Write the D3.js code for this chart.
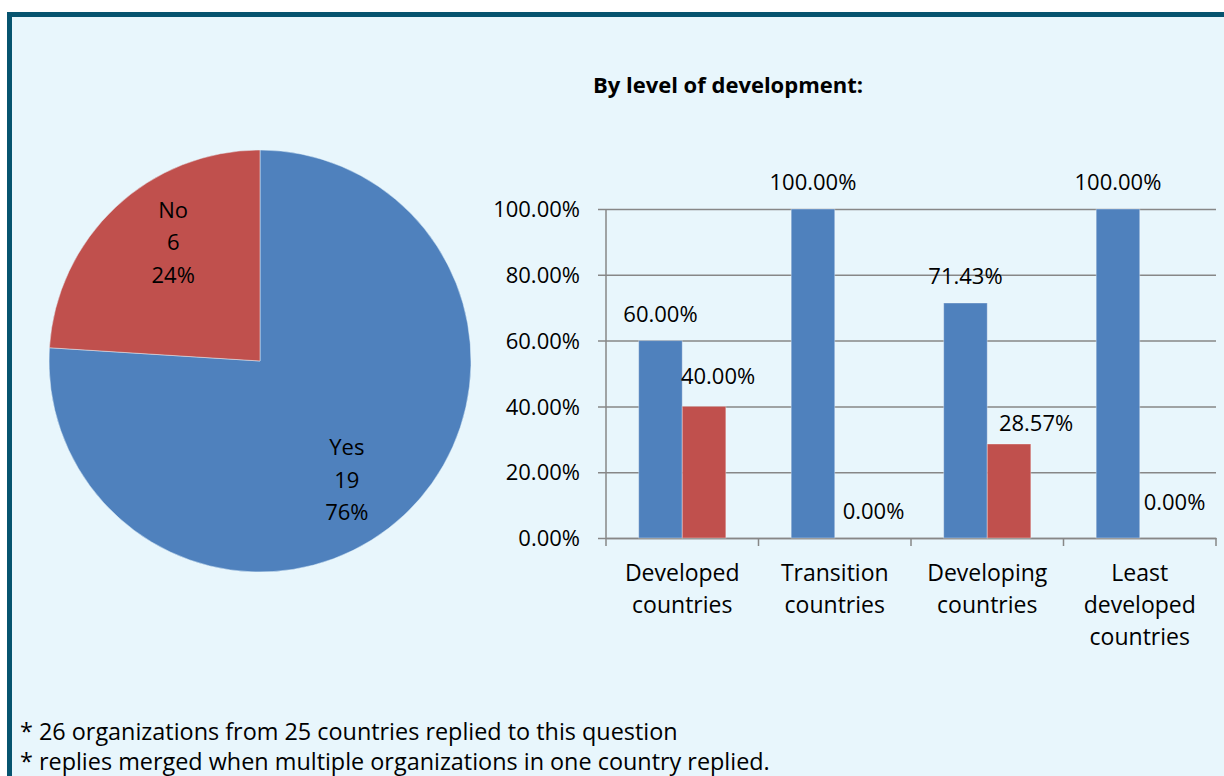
<!DOCTYPE html>
<html lang="en">
<head>
    <meta charset="UTF-8">
    <title>Replies by level of development</title>
    <script src="https://cdn.jsdelivr.net/npm/d3@7"></script>
    <style>
        html, body {
            margin: 0;
            padding: 0;
            background-color: #ffffff;
            font-family: 'Open Sans', sans-serif;
            color: #000;
        }
        svg text {
            font-family: 'Open Sans', sans-serif;
        }
    </style>
</head>
<body>
    <div id="chart"></div>
    <script>
        const width = 1224;
        const height = 776;

        // pie data
        const pieLabels = ["Yes", "No"];
        const pieValues = [19, 6];
        const piePercents = ["76%", "24%"];

        // bar data
        const categories = [
            ["Developed", "countries"],
            ["Transition", "countries"],
            ["Developing", "countries"],
            ["Least", "developed", "countries"]
        ];
        const seriesNames = ["Yes", "No"];
        const yesShare = [0.60, 1.00, 0.7143, 1.00];
        const noShare = [0.40, 0.00, 0.2857, 0.00];
        const yTicks = [0, 0.2, 0.4, 0.6, 0.8, 1.0];

        const notes = [
            "* 26 organizations from 25 countries replied to this question",
            "* replies merged when multiple organizations in one country replied."
        ];

        const colours = ["#4F81BD", "#C0504D"];
        // Excel moved the "No" labels around to avoid overlaps
        const noLabelDx = [14, 17, 27, 13];
        const noLabelDy = [-3, 0, 6, -9];

        const svg = d3.select("#chart")
            .append("svg")
            .attr("width", width)
            .attr("height", height);

        // PANEL
        svg.append("rect")
            .attr("x", 9.5)
            .attr("y", 14.5)
            .attr("width", width + 40)
            .attr("height", height + 40)
            .style("fill", "#E8F6FC")
            .style("stroke", "#06546F")
            .style("stroke-width", 5);

        // PIE
        const pieCx = 260, pieCy = 361, pieR = 211;
        const labelR = 147;
        const labelTurn = 7 * Math.PI / 180;
        const pie = d3.pie().sort(null).value(d => d.value);
        const pieData = pie(pieLabels.map((l, i) => ({label: l, value: pieValues[i], pct: piePercents[i], i: i})));
        const arc = d3.arc().innerRadius(0).outerRadius(pieR);

        const pieG = svg.append("g")
            .attr("transform", `translate(${pieCx}, ${pieCy})`);

        pieG.selectAll("path")
            .data(pieData).enter()
            .append("path")
            .attr("d", arc)
            .style("fill", d => colours[d.data.i])
            .style("stroke", "#E8F6FC")
            .style("stroke-width", 0.8)
            .style("stroke-opacity", 0.6);

        pieG.selectAll("text.pie-label")
            .data(pieData).enter()
            .append("text")
            .attr("class", "pie-label")
            .attr("text-anchor", "middle")
            .attr("transform", d => {
                const a = (d.startAngle + d.endAngle) / 2 + labelTurn;
                return `translate(${labelR * Math.sin(a)}, ${-labelR * Math.cos(a)})`;
            })
            .style("font-size", "22px")
            .each(function(d) {
                const lines = [d.data.label, d.data.value, d.data.pct];
                d3.select(this).selectAll("tspan")
                    .data(lines).enter()
                    .append("tspan")
                    .attr("x", 0)
                    .attr("y", (l, k) => (k - 1) * 32.5 + 8)
                    .text(l => l);
            });

        // BAR CHART
        const plot = {left: 606, right: 1216, top: 209, bottom: 538};

        svg.append("text")
            .attr("x", 728)
            .attr("y", 93)
            .attr("text-anchor", "middle")
            .style("font-size", "22px")
            .style("font-weight", "bold")
            .text("By level of development:");

        const x0 = d3.scaleBand()
            .domain(d3.range(categories.length))
            .range([plot.left, plot.right]);

        const x1 = d3.scaleBand()
            .domain(seriesNames)
            .range([0, x0.bandwidth()])
            .paddingOuter(0.75);

        const y = d3.scaleLinear()
            .domain([0, 1])
            .range([plot.bottom, plot.top]);

        // gridlines + y axis
        const yAxis = d3.axisLeft(y)
            .tickValues(yTicks)
            .tickSize(-(plot.right - plot.left))
            .tickFormat(d3.format(".2%"));

        const yG = svg.append("g")
            .attr("transform", `translate(${plot.left}, 0)`)
            .call(yAxis);
        yG.select(".domain").remove();
        yG.selectAll(".tick line")
            .attr("x1", -8)
            .style("stroke", "#878787")
            .style("stroke-width", 1.5);
        yG.selectAll(".tick text")
            .attr("x", -26)
            .attr("dy", "0.35em")
            .style("font-size", "22px")
            .style("font-family", "'Open Sans', sans-serif")
            .style("fill", "#000");

        svg.append("line")
            .attr("x1", plot.left).attr("x2", plot.left)
            .attr("y1", plot.top).attr("y2", plot.bottom)
            .style("stroke", "#878787")
            .style("stroke-width", 1.5);

        // x axis
        const xAxis = d3.axisBottom(x0).tickSize(0).tickFormat("");
        const xG = svg.append("g")
            .attr("transform", `translate(0, ${plot.bottom})`)
            .call(xAxis);
        xG.select(".domain")
            .style("stroke", "#878787")
            .style("stroke-width", 1.5);

        const boundaries = d3.range(categories.length + 1).map(i => i === categories.length ? plot.right : x0(i));
        svg.selectAll("line.cat-tick")
            .data(boundaries).enter()
            .append("line")
            .attr("class", "cat-tick")
            .attr("x1", d => d).attr("x2", d => d)
            .attr("y1", plot.bottom).attr("y2", plot.bottom + 8)
            .style("stroke", "#878787")
            .style("stroke-width", 1.5);

        svg.selectAll("text.cat-label")
            .data(categories).enter()
            .append("text")
            .attr("class", "cat-label")
            .attr("text-anchor", "middle")
            .style("font-size", "23px")
            .each(function(lines, i) {
                d3.select(this).selectAll("tspan")
                    .data(lines).enter()
                    .append("tspan")
                    .attr("x", x0(i) + x0.bandwidth() / 2)
                    .attr("y", (l, k) => plot.bottom + 43 + k * 32)
                    .text(l => l);
            });

        // bars
        const barData = [];
        categories.forEach((c, i) => {
            barData.push({cat: i, series: "Yes", value: yesShare[i], s: 0});
            barData.push({cat: i, series: "No", value: noShare[i], s: 1});
        });

        svg.selectAll("rect.bar")
            .data(barData).enter()
            .append("rect")
            .attr("class", "bar")
            .attr("x", d => x0(d.cat) + x1(d.series))
            .attr("y", d => y(d.value))
            .attr("width", x1.bandwidth())
            .attr("height", d => y(0) - y(d.value))
            .style("fill", d => colours[d.s])
            .style("stroke", "rgba(255,255,255,0.35)")
            .style("stroke-width", 1);

        svg.selectAll("text.bar-label")
            .data(barData).enter()
            .append("text")
            .attr("class", "bar-label")
            .attr("text-anchor", "middle")
            .attr("x", d => x0(d.cat) + x1(d.series) + x1.bandwidth() / 2 + (d.s === 1 ? noLabelDx[d.cat] : 0))
            .attr("y", d => y(d.value) - 19 + (d.s === 1 ? noLabelDy[d.cat] : 0))
            .style("font-size", "22px")
            .text(d => d3.format(".2%")(d.value));

        // NOTES
        svg.selectAll("text.note")
            .data(notes).enter()
            .append("text")
            .attr("class", "note")
            .attr("x", 20)
            .attr("y", (d, i) => 740 + i * 30)
            .style("font-size", "23.4px")
            .text(d => d);
    </script>
</body>
</html>
